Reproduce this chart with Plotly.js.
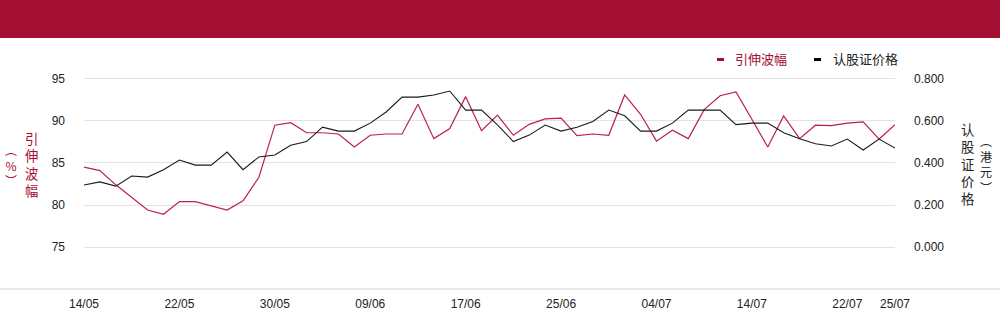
<!DOCTYPE html>
<html>
<head>
<meta charset="utf-8">
<script src="https://cdn.plot.ly/plotly-3.0.1.min.js"></script>
<style>
  html, body { margin: 0; padding: 0; background: #fff; }
  #chart { width: 1000px; height: 324px; }
</style>
</head>
<body>
<div id="chart"></div>
<script>
// ---- data ----
const dates = [
  "14/05","15/05","16/05","19/05","20/05","21/05","22/05","23/05","26/05","27/05","28/05","29/05","30/05",
  "02/06","03/06","04/06","05/06","06/06","09/06","10/06","11/06","12/06","13/06","16/06","17/06","18/06",
  "19/06","20/06","23/06","24/06","25/06","26/06","27/06","30/06",
  "02/07","03/07","04/07","07/07","08/07","09/07","10/07","11/07","14/07","15/07","16/07","17/07","18/07",
  "21/07","22/07","23/07","24/07","25/07"
];
const impliedVol = [
  84.5, 84.1, 82.4, 80.9, 79.4, 78.9, 80.4, 80.4, 79.9, 79.4, 80.5, 83.3, 89.5,
  89.8, 88.6, 88.6, 88.45, 86.9, 88.3, 88.45, 88.45, 92.0, 87.9, 89.1, 92.9, 88.85,
  90.7, 88.3, 89.6, 90.25, 90.35, 88.25, 88.45, 88.3,
  93.1, 90.8, 87.6, 88.9, 87.9, 91.35, 93.0, 93.45, 90.2, 86.9, 90.6, 87.9, 89.5,
  89.45, 89.75, 89.9, 87.85, 89.55
];
const warrantPrice = [
  0.295, 0.310, 0.290, 0.338, 0.333, 0.368, 0.414, 0.390, 0.390, 0.452, 0.368, 0.429, 0.438,
  0.485, 0.502, 0.571, 0.552, 0.552, 0.590, 0.643, 0.714, 0.714, 0.724, 0.743, 0.652, 0.652,
  0.582, 0.502, 0.533, 0.581, 0.552, 0.570, 0.598, 0.652,
  0.625, 0.552, 0.552, 0.590, 0.652, 0.652, 0.652, 0.583, 0.590, 0.590, 0.544, 0.516, 0.492,
  0.481, 0.514, 0.462, 0.514, 0.471
];
const xTickLabels = ["14/05","22/05","30/05","09/06","17/06","25/06","04/07","14/07","22/07","25/07"];
const leftTicks = [75, 80, 85, 90, 95];
const rightTicks = [0, 0.2, 0.4, 0.6, 0.8];
const seriesNames = ["引伸波幅", "认股证价格"];
const leftTitle = "引伸波幅";
const leftUnit = "︵%︶";
const rightTitle = "认股证价格";
const rightUnit = "︵港元︶";

// ---- style / geometry ----
const RED = "#bc1f4a";
const DARK_RED = "#a50f33";
const BLACK = "#1a1a1a";
const W = 1000, H = 324;
const M = {l: 84, r: 105, t: 70, b: 35};
const PW = W - M.l - M.r, PH = H - M.t - M.b;
const px = p => (p - M.l) / PW;           // pixel x -> paper x
const py = p => (H - M.b - p) / PH;       // pixel y -> paper y
const FONT = "Liberation Sans, Arial, Noto Sans CJK SC, sans-serif";
const CJK = "Noto Sans CJK SC, sans-serif";
const vertical = s => Array.from(s).join("<br>");

const traces = [
  {
    x: dates, y: impliedVol, name: seriesNames[0], type: "scatter", mode: "lines",
    line: {color: RED, width: 1.2}, yaxis: "y", hoverinfo: "x+y"
  },
  {
    x: dates, y: warrantPrice, name: seriesNames[1], type: "scatter", mode: "lines",
    line: {color: BLACK, width: 1.1}, yaxis: "y2", hoverinfo: "x+y"
  }
];

const annotations = [];
const shapes = [];

// header band
shapes.push({type: "rect", xref: "paper", yref: "paper", x0: px(0), x1: px(W), y0: py(38), y1: py(0),
  fillcolor: "#a50f33", line: {width: 0}, layer: "below"});
// bottom rule across full width
shapes.push({type: "line", xref: "paper", yref: "paper", x0: px(0), x1: px(W), y0: py(289), y1: py(289),
  line: {color: "#cfcfcf", width: 1}});

// legend
const legendItems = [
  {name: seriesNames[0], color: DARK_RED, textColor: DARK_RED, x: 717, tx: 733},
  {name: seriesNames[1], color: "#000", textColor: "#222", x: 814, tx: 831}
];
legendItems.forEach(it => {
  shapes.push({type: "rect", xref: "paper", yref: "paper", x0: px(it.x), x1: px(it.x + 7),
    y0: py(61), y1: py(58), fillcolor: it.color, line: {width: 0}});
  annotations.push({xref: "paper", yref: "paper", x: px(it.tx), y: py(58.5), xanchor: "left", yanchor: "middle",
    text: it.name, showarrow: false, font: {family: CJK, size: 13, color: it.textColor}});
});

// left vertical title (two columns)
annotations.push({xref: "paper", yref: "paper", x: px(31), y: py(164.5), xanchor: "center", yanchor: "middle",
  text: vertical(leftTitle), showarrow: false, font: {family: CJK, size: 13.3, color: DARK_RED}});
annotations.push({xref: "paper", yref: "paper", x: px(11), y: py(164.5), xanchor: "center", yanchor: "middle",
  text: vertical(leftUnit), showarrow: false, font: {family: CJK, size: 12, color: DARK_RED}});
// right vertical title (two columns)
annotations.push({xref: "paper", yref: "paper", x: px(967.5), y: py(163.7), xanchor: "center", yanchor: "middle",
  text: vertical(rightTitle), showarrow: false, font: {family: CJK, size: 13.3, color: "#222"}});
annotations.push({xref: "paper", yref: "paper", x: px(986), y: py(163.5), xanchor: "center", yanchor: "middle",
  text: vertical(rightUnit), showarrow: false, font: {family: CJK, size: 12, color: "#222"}});

const layout = {
  width: W, height: H,
  margin: M,
  paper_bgcolor: "#ffffff", plot_bgcolor: "#ffffff",
  showlegend: false,
  font: {family: FONT, size: 12, color: "#222"},
  xaxis: {
    type: "category", range: [0, dates.length - 1],
    tickmode: "array", tickvals: xTickLabels, ticktext: xTickLabels,
    showgrid: false, zeroline: false, showline: false, ticks: "",
    tickfont: {family: FONT, size: 12, color: "#222"}, ticklabelstandoff: 6
  },
  yaxis: {
    range: [70, 96.07], tickmode: "array", tickvals: leftTicks,
    showgrid: true, gridcolor: "#e2e2e2", gridwidth: 1, zeroline: false, showline: false, ticks: "",
    tickfont: {family: FONT, size: 12, color: "#222"}, ticklabelstandoff: 18
  },
  yaxis2: {
    overlaying: "y", side: "right", range: [-0.2, 0.843], tickmode: "array", tickvals: rightTicks,
    tickformat: ".3f", showgrid: false, zeroline: false, showline: false, ticks: "",
    tickfont: {family: FONT, size: 12, color: "#222"}, ticklabelstandoff: 18
  },
  shapes: shapes,
  annotations: annotations
};

Plotly.newPlot("chart", traces, layout, {staticPlot: true, displayModeBar: false});
</script>
</body>
</html>
